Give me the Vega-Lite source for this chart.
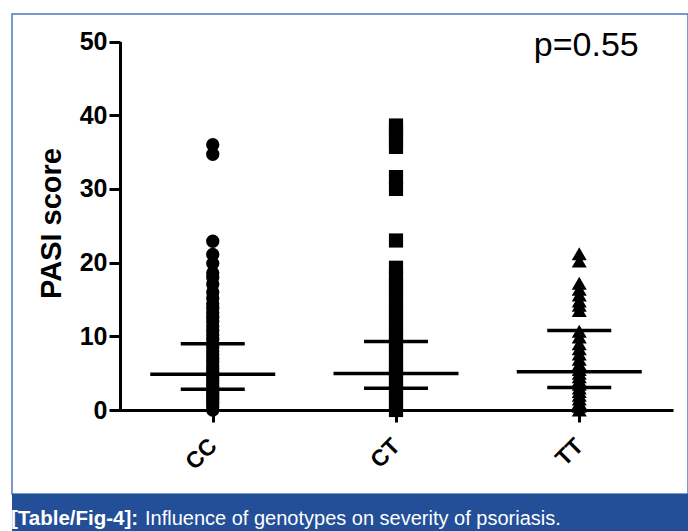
{
  "$schema": "https://vega.github.io/schema/vega-lite/v6.json",
  "padding": {"left": 11, "top": 13, "right": 0, "bottom": 0},
  "spacing": 0,
  "bounds": "flush",
  "background": "white",
  "config": {"font": "Liberation Sans"},
  "datasets": {
    "scores": [
      {"genotype": "CC", "pasi": 0}, {"genotype": "CC", "pasi": 0.4}, {"genotype": "CC", "pasi": 0.8}, {"genotype": "CC", "pasi": 1.2},
      {"genotype": "CC", "pasi": 1.6}, {"genotype": "CC", "pasi": 2}, {"genotype": "CC", "pasi": 2.4}, {"genotype": "CC", "pasi": 2.8},
      {"genotype": "CC", "pasi": 3.2}, {"genotype": "CC", "pasi": 3.6}, {"genotype": "CC", "pasi": 4}, {"genotype": "CC", "pasi": 4.4},
      {"genotype": "CC", "pasi": 4.8}, {"genotype": "CC", "pasi": 5.2}, {"genotype": "CC", "pasi": 5.6}, {"genotype": "CC", "pasi": 6},
      {"genotype": "CC", "pasi": 6.5}, {"genotype": "CC", "pasi": 7}, {"genotype": "CC", "pasi": 7.5}, {"genotype": "CC", "pasi": 8},
      {"genotype": "CC", "pasi": 8.5}, {"genotype": "CC", "pasi": 9}, {"genotype": "CC", "pasi": 9.6}, {"genotype": "CC", "pasi": 10.2},
      {"genotype": "CC", "pasi": 10.8}, {"genotype": "CC", "pasi": 11.4}, {"genotype": "CC", "pasi": 12}, {"genotype": "CC", "pasi": 12.6},
      {"genotype": "CC", "pasi": 13.2}, {"genotype": "CC", "pasi": 13.8}, {"genotype": "CC", "pasi": 14.4}, {"genotype": "CC", "pasi": 15.2},
      {"genotype": "CC", "pasi": 16}, {"genotype": "CC", "pasi": 17.1}, {"genotype": "CC", "pasi": 18}, {"genotype": "CC", "pasi": 18.6},
      {"genotype": "CC", "pasi": 19.9}, {"genotype": "CC", "pasi": 21.1}, {"genotype": "CC", "pasi": 22.9}, {"genotype": "CC", "pasi": 34.7},
      {"genotype": "CC", "pasi": 36},
      {"genotype": "CT", "pasi": 0}, {"genotype": "CT", "pasi": 1}, {"genotype": "CT", "pasi": 2}, {"genotype": "CT", "pasi": 3},
      {"genotype": "CT", "pasi": 4}, {"genotype": "CT", "pasi": 5}, {"genotype": "CT", "pasi": 6}, {"genotype": "CT", "pasi": 7},
      {"genotype": "CT", "pasi": 8}, {"genotype": "CT", "pasi": 9}, {"genotype": "CT", "pasi": 10}, {"genotype": "CT", "pasi": 11},
      {"genotype": "CT", "pasi": 12}, {"genotype": "CT", "pasi": 13}, {"genotype": "CT", "pasi": 14}, {"genotype": "CT", "pasi": 15},
      {"genotype": "CT", "pasi": 16}, {"genotype": "CT", "pasi": 17}, {"genotype": "CT", "pasi": 18}, {"genotype": "CT", "pasi": 19.3},
      {"genotype": "CT", "pasi": 23}, {"genotype": "CT", "pasi": 30}, {"genotype": "CT", "pasi": 31.6}, {"genotype": "CT", "pasi": 35.7},
      {"genotype": "CT", "pasi": 36.7}, {"genotype": "CT", "pasi": 37.7}, {"genotype": "CT", "pasi": 38.6},
      {"genotype": "TT", "pasi": 0}, {"genotype": "TT", "pasi": 0.5}, {"genotype": "TT", "pasi": 1}, {"genotype": "TT", "pasi": 1.5},
      {"genotype": "TT", "pasi": 2}, {"genotype": "TT", "pasi": 2.5}, {"genotype": "TT", "pasi": 3}, {"genotype": "TT", "pasi": 3.5},
      {"genotype": "TT", "pasi": 4}, {"genotype": "TT", "pasi": 4.5}, {"genotype": "TT", "pasi": 5}, {"genotype": "TT", "pasi": 5.5},
      {"genotype": "TT", "pasi": 6.2}, {"genotype": "TT", "pasi": 6.9}, {"genotype": "TT", "pasi": 7.6}, {"genotype": "TT", "pasi": 8.3},
      {"genotype": "TT", "pasi": 9}, {"genotype": "TT", "pasi": 9.9}, {"genotype": "TT", "pasi": 10.7}, {"genotype": "TT", "pasi": 13.5},
      {"genotype": "TT", "pasi": 14.2}, {"genotype": "TT", "pasi": 14.8}, {"genotype": "TT", "pasi": 15.6}, {"genotype": "TT", "pasi": 16.4},
      {"genotype": "TT", "pasi": 17.2}, {"genotype": "TT", "pasi": 20.2}, {"genotype": "TT", "pasi": 21.2}
    ],
    "summary": [
      {"genotype": "CC", "stat": "median", "pasi": 4.85},
      {"genotype": "CC", "stat": "q1", "pasi": 2.8},
      {"genotype": "CC", "stat": "q3", "pasi": 9.0},
      {"genotype": "CT", "stat": "median", "pasi": 4.95},
      {"genotype": "CT", "stat": "q1", "pasi": 2.95},
      {"genotype": "CT", "stat": "q3", "pasi": 9.3},
      {"genotype": "TT", "stat": "median", "pasi": 5.2},
      {"genotype": "TT", "stat": "q1", "pasi": 3.05},
      {"genotype": "TT", "stat": "q3", "pasi": 10.8}
    ]
  },
  "vconcat": [
    {
      "width": 676,
      "height": 480,
      "view": {"stroke": "#4a78c4", "strokeWidth": 1.5, "fill": "white"},
      "layer": [
        {
          "data": {"name": "scores"},
          "mark": {"type": "point", "filled": true, "opacity": 1, "color": "black"},
          "encoding": {
            "x": {
              "field": "genotype", "type": "nominal",
              "scale": {"type": "point", "domain": ["CC", "CT", "TT"], "range": [107, 661], "padding": 0.5116},
              "axis": {
                "title": null, "domainWidth": 3, "domainColor": "black", "tickColor": "black", "tickWidth": 3, "tickSize": 12,
                "labelAngle": -45, "labelAlign": "right", "labelBaseline": "middle", "labelFontSize": 23, "labelFontWeight": "bold",
                "labelColor": "black", "labelPadding": 20, "offset": -84, "grid": false
              }
            },
            "y": {
              "field": "pasi", "type": "quantitative",
              "scale": {"domain": [0, 50], "range": [396, 27.5]},
              "axis": {
                "title": "PASI score", "titleFontSize": 29, "titleFontWeight": "bold", "titleColor": "black",
                "titleX": -69, "titleY": 209, "titleAngle": -90, "titleAlign": "center", "titleBaseline": "middle",
                "values": [0, 10, 20, 30, 40, 50], "domainWidth": 3, "domainColor": "black", "tickWidth": 3, "tickSize": 11,
                "tickColor": "black", "labelFontSize": 25, "labelFontWeight": "bold", "labelColor": "black", "labelPadding": 2,
                "offset": -108, "grid": false
              }
            },
            "shape": {"field": "genotype", "type": "nominal", "scale": {"domain": ["CC", "CT", "TT"], "range": ["circle", "square", "triangle-up"]}, "legend": null},
            "size": {"field": "genotype", "type": "nominal", "scale": {"domain": ["CC", "CT", "TT"], "range": [177, 225, 169]}, "legend": null}
          }
        },
        {
          "data": {"name": "summary"},
          "transform": [{"filter": "datum.stat === 'median'"}],
          "mark": {"type": "tick", "orient": "horizontal", "size": 125, "thickness": 3.5, "color": "black", "opacity": 1},
          "encoding": {
            "x": {"field": "genotype", "type": "nominal"},
            "y": {"field": "pasi", "type": "quantitative"}
          }
        },
        {
          "data": {"name": "summary"},
          "transform": [{"filter": "datum.stat !== 'median'"}],
          "mark": {"type": "tick", "orient": "horizontal", "size": 64, "thickness": 3.5, "color": "black", "opacity": 1},
          "encoding": {
            "x": {"field": "genotype", "type": "nominal"},
            "y": {"field": "pasi", "type": "quantitative"}
          }
        },
        {
          "data": {"values": [{"label": "p=0.55"}]},
          "mark": {"type": "text", "fontSize": 34, "align": "center", "baseline": "alphabetic", "dx": 7, "color": "black"},
          "encoding": {
            "x": {"datum": "TT"},
            "y": {"datum": 48.0},
            "text": {"field": "label"}
          }
        }
      ]
    },
    {
      "width": 676,
      "height": 38,
      "view": {"fill": "#234e98", "stroke": null},
      "data": {"values": [{"bold": "[Table/Fig-4]:", "rest": "Influence of genotypes on severity of psoriasis."}]},
      "layer": [
        {
          "mark": {"type": "text", "fontWeight": "bold", "fontSize": 20.5, "color": "white", "align": "left", "baseline": "alphabetic", "x": -1, "y": 31},
          "encoding": {"text": {"field": "bold"}}
        },
        {
          "mark": {"type": "text", "fontSize": 20, "color": "white", "align": "left", "baseline": "alphabetic", "x": -1, "y": 31, "dx": 134},
          "encoding": {"text": {"field": "rest"}}
        }
      ]
    }
  ]
}
